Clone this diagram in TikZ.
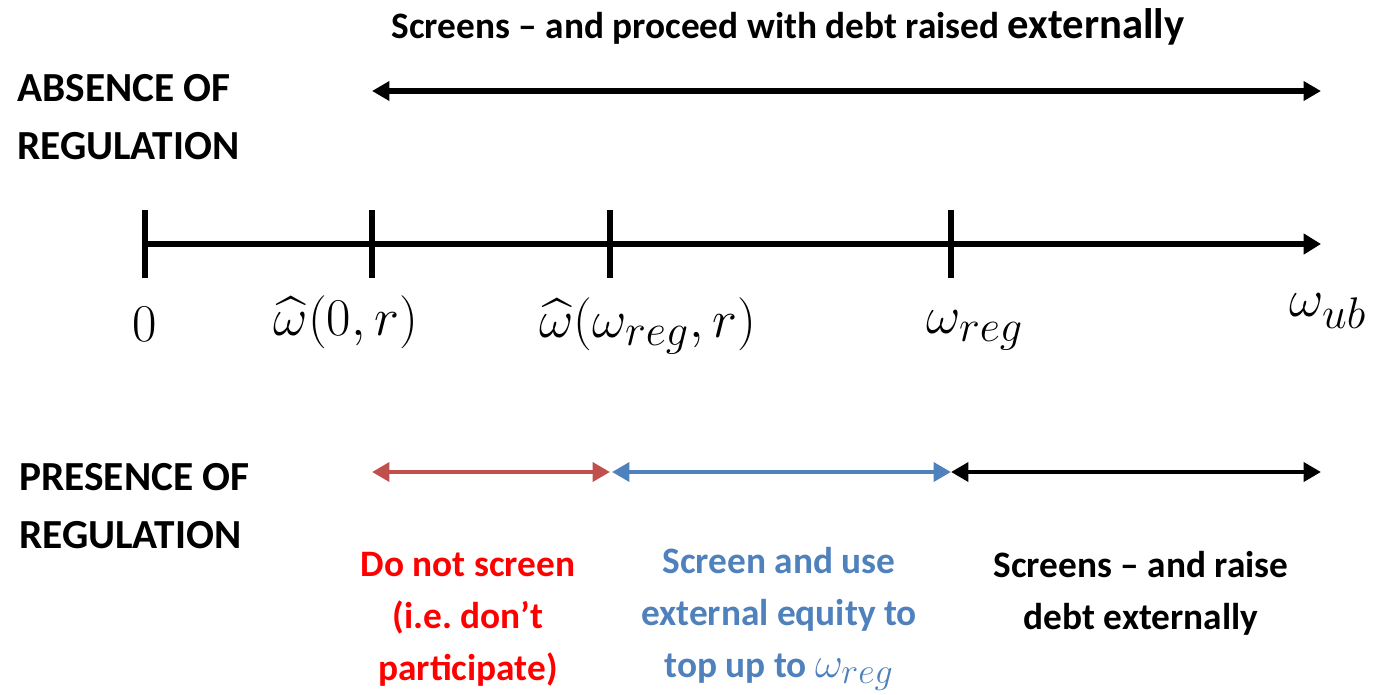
\documentclass[tikz,border=0pt]{standalone}
\usepackage[no-math]{fontspec}
\setmainfont{Carlito}
\usepackage{amsmath}
\usepackage{graphicx}
\usetikzlibrary{arrows.meta}
\definecolor{redarrow}{HTML}{C0504D}
\definecolor{bluetxt}{HTML}{4F81BD}
\definecolor{redtxt}{HTML}{FF0000}
\frenchspacing
\begin{document}
\begin{tikzpicture}[x=0.75pt,y=-0.75pt,
  heading/.style={font=\bfseries\fontsize{31pt}{44pt}\selectfont, inner sep=0pt, anchor=west, align=left},
  desc/.style={font=\bfseries\fontsize{28pt}{39pt}\selectfont, inner sep=0pt, align=center},
  mathlbl/.style={font=\fontsize{24.88pt}{30pt}\selectfont, inner sep=0pt, scale=1.6},
  tick/.style={line width=4.8pt},
  dbl/.style={line width=3.6pt, {Triangle[length=13pt,width=14pt]}-{Triangle[length=13pt,width=14pt]}},
  axarrow/.style={line width=4.8pt, -{Triangle[length=13pt,width=15pt]}}
]
\useasboundingbox (0,0) rectangle (1380,694);

% top heading
\node[font=\bfseries\fontsize{28pt}{30pt}\selectfont, inner sep=0pt] (title) at (788,27) {Screens -- and proceed with debt raised {\fontsize{32pt}{30pt}\selectfont externally}};

\node[heading] (absence) at (17,117) {ABSENCE OF\\REGULATION};
\node[heading] (presence) at (19,506) {PRESENCE OF\\REGULATION};

% top double arrow
\coordinate (tA) at (372,91);
\coordinate (tB) at (1321,91);
\draw[dbl, line width=3.8pt] (tA) -- (tB);

% axis
\coordinate (a0) at (145,244);
\coordinate (a1) at (372,244);
\coordinate (a2) at (610,244);
\coordinate (a3) at (951,244);
\coordinate (aE) at (1321,244);
\draw[axarrow] (a0) -- (aE);
\foreach \p in {a0,a1,a2,a3}{
  \draw[tick] ([yshift=-34*0.75pt]\p) -- ([yshift=34*0.75pt]\p);
}

% axis labels
\node[mathlbl] (l0) at (145,324) {$0$};
\node[mathlbl] (l1) at (346,322) {$\widehat{\omega}(0,r)$};
\node[mathlbl] (l2) at (648,326) {$\widehat{\omega}(\omega_{reg},r)$};
\node[mathlbl] (l3) at (975,330) {$\omega_{reg}$};
\node[mathlbl] (l4) at (1328,311) {$\omega_{ub}$};

% bottom arrows
\coordinate (b1) at (372,472);
\coordinate (b2) at (610,472);
\coordinate (b2b) at (612,472);
\coordinate (b3) at (951,472);
\coordinate (b4) at (1321,472);
\draw[dbl, draw=redarrow, fill=redarrow] (b1) -- (b2);
\draw[dbl, draw=bluetxt, fill=bluetxt] (b2b) -- (b3);
\draw[dbl, black] (b3) -- (b4);

% descriptions
\node[desc, text=redtxt] (d1) at (468,619) {Do not screen\\(i.e. don’t\\participate)};
\node[desc, text=bluetxt] (d2) at (779,619) {Screen and use\\external equity to\\top up to \scalebox{1.3}{\mdseries$\omega_{reg}$}};
\node[desc] (d3) at (1141,593) {Screens -- and raise\\debt externally};
\end{tikzpicture}
\end{document}
